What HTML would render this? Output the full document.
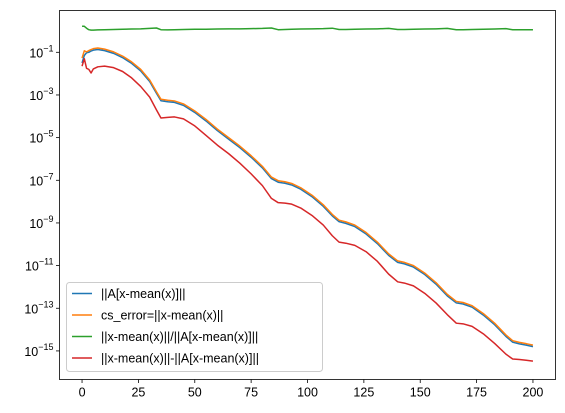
<!DOCTYPE html>
<html><head><meta charset="utf-8"><style>
body{margin:0;background:#fff;}
svg{display:block;font-family:"Liberation Sans","DejaVu Sans",sans-serif;}
</style></head><body>
<svg id="chart" width="565" height="413" viewBox="0 0 565 413">
<rect x="0" y="0" width="565" height="413" fill="#fff"/>
<g id="plot"></g>
<g id="axes"></g>
<g id="legend"></g>
</svg>
<script>
const xs = [0,1,2,3,4,5,7,10,14,18,22,26,30,33,35,38,41,45,50,55,60,65,70,75,80,84,87,90,93,97,102,107,111,114,117,121,126,131,136,140,143,147,152,157,162,166,169,173,178,183,188,191,194,197,200];
const blueLog = [-1.5,-1.15,-1.02,-1.0,-0.94,-0.9,-0.87,-0.92,-1.05,-1.25,-1.52,-1.87,-2.37,-2.92,-3.27,-3.32,-3.35,-3.49,-3.82,-4.22,-4.67,-5.07,-5.47,-5.92,-6.42,-6.92,-7.09,-7.14,-7.22,-7.42,-7.77,-8.22,-8.67,-8.94,-9.02,-9.17,-9.52,-9.97,-10.52,-10.85,-10.92,-11.07,-11.42,-11.87,-12.42,-12.75,-12.8,-12.95,-13.32,-13.77,-14.32,-14.59,-14.67,-14.73,-14.8];
const orangeLog = [-1.27,-0.93,-0.98,-0.92,-0.87,-0.83,-0.8,-0.85,-0.98,-1.18,-1.45,-1.8,-2.3,-2.85,-3.2,-3.25,-3.28,-3.42,-3.75,-4.15,-4.6,-5.0,-5.4,-5.85,-6.35,-6.85,-7.02,-7.07,-7.15,-7.35,-7.7,-8.15,-8.6,-8.87,-8.95,-9.1,-9.45,-9.9,-10.45,-10.78,-10.85,-11.0,-11.35,-11.8,-12.35,-12.68,-12.73,-12.88,-13.25,-13.7,-14.25,-14.52,-14.6,-14.66,-14.73];
const greenLog = [0.22,0.22,0.13,0.06,0.04,0.04,0.05,0.06,0.07,0.08,0.09,0.1,0.12,0.14,0.06,0.05,0.06,0.07,0.08,0.08,0.09,0.1,0.1,0.11,0.12,0.14,0.06,0.07,0.08,0.09,0.1,0.11,0.13,0.07,0.07,0.08,0.09,0.1,0.12,0.07,0.07,0.08,0.09,0.1,0.12,0.06,0.06,0.07,0.08,0.09,0.11,0.06,0.06,0.06,0.06];
const redLog = [-1.65,-1.3,-1.75,-1.8,-1.97,-1.78,-1.68,-1.65,-1.72,-1.9,-2.2,-2.6,-3.1,-3.7,-4.08,-4.05,-4.03,-4.12,-4.45,-4.9,-5.35,-5.75,-6.2,-6.7,-7.25,-7.85,-8.05,-8.07,-8.12,-8.3,-8.65,-9.1,-9.6,-9.9,-9.95,-10.05,-10.35,-10.8,-11.4,-11.76,-11.82,-11.95,-12.3,-12.75,-13.3,-13.7,-13.73,-13.85,-14.2,-14.65,-15.15,-15.38,-15.4,-15.44,-15.48];
const xTicks = [0,25,50,75,100,125,150,175,200];
const yTickExps = [-1,-3,-5,-7,-9,-11,-13,-15];
const seriesNames = ["||A[x-mean(x)]||","cs_error=||x-mean(x)||","||x-mean(x)||/||A[x-mean(x)]||","||x-mean(x)||-||A[x-mean(x)]||"];

const L=59.5,R=555.5,T=10.5,B=379.5;
const xMin=-10,xMax=210,yMin=-16.34,yMax=0.96;
function sx(v){return L+(v-xMin)/(xMax-xMin)*(R-L);}
function sy(v){return B-(v-yMin)/(yMax-yMin)*(B-T);}
const NS="http://www.w3.org/2000/svg";
function mk(tag,attrs,parent){const e=document.createElementNS(NS,tag);for(const k in attrs)e.setAttribute(k,attrs[k]);parent.appendChild(e);return e;}
const plot=document.getElementById('plot'),axes=document.getElementById('axes'),legend=document.getElementById('legend');
const colors=["#1f77b4","#ff7f0e","#2ca02c","#d62728"];
const all=[blueLog,orangeLog,greenLog,redLog];
const lineNames=['series-a-norm','series-cs-error','series-ratio','series-difference'];
all.forEach((s,i)=>{
  const pts=xs.map((x,j)=>sx(x).toFixed(2)+","+sy(s[j]).toFixed(2)).join(" ");
  const p=mk('polyline',{points:pts,fill:'none',stroke:colors[i],'stroke-width':1.5,'stroke-linejoin':'round'},plot);
  
  
});
const frame=mk('rect',{x:L,y:T,width:R-L,height:B-T,fill:'none',stroke:'#000','stroke-width':0.8},axes);


xTicks.forEach(t=>{
  const x=sx(t);
  const tk=mk('line',{x1:x,x2:x,y1:B,y2:B+3.5,stroke:'#000','stroke-width':0.8},axes);
  
  
  const tx=mk('text',{x:x,y:B+17,'text-anchor':'middle','font-size':12.5,fill:'#000'},axes);
  tx.textContent=t;
  
  
});
yTickExps.forEach(e=>{
  const y=sy(e);
  const tk=mk('line',{x1:L-3.5,x2:L,y1:y,y2:y,stroke:'#000','stroke-width':0.8},axes);
  
  
  const tx=mk('text',{x:L-6,y:y+5,'text-anchor':'end','font-size':12.5,fill:'#000'},axes);
  
  
  const a=mk('tspan',{},tx);a.textContent='10';
  const b=mk('tspan',{dy:-6,'font-size':9},tx);b.textContent='\u2212'+Math.abs(e);
});
const box=mk('rect',{x:66.5,y:282.5,width:256,height:89,rx:3,fill:'#fff','fill-opacity':0.8,stroke:'#ccc','stroke-width':1},legend);


seriesNames.forEach((n,i)=>{
  const y=293.5+i*21.5;
  const ln=mk('line',{x1:72,x2:92,y1:y,y2:y,stroke:colors[i],'stroke-width':1.5},legend);
  
  
  const t=mk('text',{x:101,y:y+4.5,'font-size':12.5,fill:'#000'},legend);
  t.textContent=n;
  
  
});
</script>
</body></html>
